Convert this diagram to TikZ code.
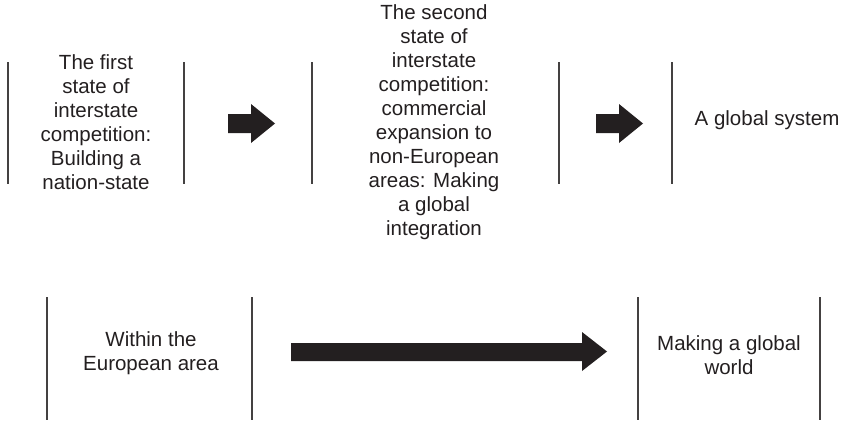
\documentclass[tikz,border=0pt]{standalone}
\usepackage{fontspec}
\setmainfont{Liberation Sans}
\definecolor{ink}{HTML}{231F20}
\begin{document}
\begin{tikzpicture}[x=1pt,y=-1pt,
  sep/.style={draw=ink!85,line width=1.4pt},
  lbl/.style={text=ink,align=center,font=\fontsize{20.5}{24}\selectfont,inner sep=0pt},
  blk/.style={fill=ink,draw=none}]
\useasboundingbox (0,0) rectangle (858,420);
% top row separators
\foreach \n/\x in {a/8,b/184,c/312,d/559,e/672}{
  \coordinate (t\n1) at (\x,62); \coordinate (t\n2) at (\x,184);
  \draw[sep] (t\n1) -- (t\n2);}
% bottom row separators
\foreach \n/\x in {a/47,b/252,c/638,d/820}{
  \coordinate (b\n1) at (\x,297); \coordinate (b\n2) at (\x,420);
  \draw[sep] (b\n1) -- (b\n2);}
% texts
\node[lbl] (s1) at (96,122) {The first\\state of\\interstate\\competition:\\Building a\\nation-state};
\node[lbl] (s2) at (434,122) {The second\\state of\\interstate\\competition:\\commercial\\expansion to\\non-European\\areas: Making\\a global\\integration};
\node[lbl] (s3) at (767,120) {A global system};
\node[lbl] (w1) at (151,353) {Within the\\European area};
\node[lbl] (w2) at (729,355) {Making a global\\world};
% block arrows
\fill[blk] (228,114) -- (251,114) -- (251,104) -- (275,123.5) -- (251,143) -- (251,133) -- (228,133) -- cycle;
\fill[blk] (596,114) -- (619,114) -- (619,104) -- (643,123.5) -- (619,143) -- (619,133) -- (596,133) -- cycle;
\fill[blk] (291,343) -- (582,343) -- (582,332) -- (607,351.5) -- (582,371) -- (582,361) -- (291,361) -- cycle;
\end{tikzpicture}
\end{document}
